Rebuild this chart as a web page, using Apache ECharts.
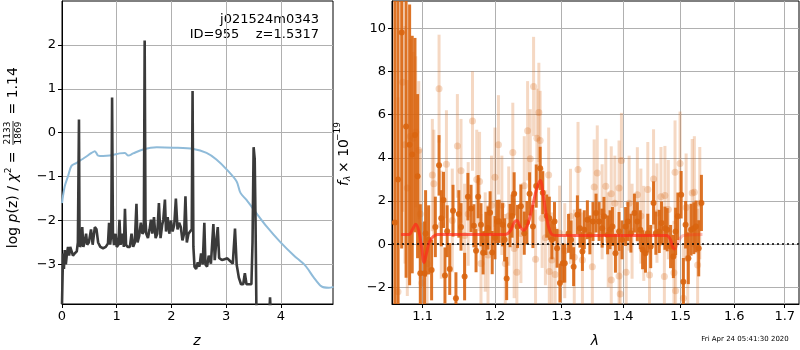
<!DOCTYPE html>
<html>
<head>
<meta charset="utf-8">
<script src="https://cdn.jsdelivr.net/npm/echarts@6/dist/echarts.min.js"></script>
<style>
  html, body { margin: 0; padding: 0; background: #fff; }
  #chart { width: 800px; height: 350px; }
</style>
</head>
<body>
<div id="chart"></div>
<script>
  // p(z) panel
  var zBlack = [0, 0.01, 0.02, 0.035, 0.05, 0.07, 0.09, 0.11, 0.13, 0.15, 0.17, 0.2, 0.23, 0.27, 0.29, 0.30, 0.31, 0.32, 0.33, 0.35, 0.37, 0.39, 0.42, 0.44, 0.46, 0.49, 0.53, 0.56, 0.6, 0.63, 0.66, 0.70, 0.75, 0.8, 0.84, 0.86, 0.88, 0.9, 0.915, 0.93, 0.95, 0.98, 1.0, 1.03, 1.05, 1.07, 1.1, 1.13, 1.15, 1.17, 1.2, 1.24, 1.27, 1.3, 1.33, 1.36, 1.38, 1.41, 1.44, 1.47, 1.495, 1.51, 1.525, 1.54, 1.57, 1.6, 1.625, 1.65, 1.68, 1.71, 1.74, 1.77, 1.8, 1.83, 1.85, 1.88, 1.9, 1.93, 1.96, 1.99, 2.02, 2.05, 2.08, 2.11, 2.14, 2.17, 2.2, 2.23, 2.255, 2.28, 2.31, 2.34, 2.37, 2.385, 2.40, 2.42, 2.45, 2.48, 2.51, 2.54, 2.57, 2.6, 2.62, 2.65, 2.68, 2.72, 2.765, 2.79, 2.82, 2.845, 2.87, 2.92, 2.97, 3.02, 3.07, 3.12, 3.16, 3.19, 3.23, 3.27, 3.31, 3.34, 3.37, 3.42, 3.46, 3.48, 3.50, 3.52, 3.535, 3.55, 3.57, 3.78, 3.80, 3.82, 3.9];
  var pBlack = [-3.9, -3.3, -2.75, -3.1, -2.67, -3.0, -2.75, -2.6, -2.8, -2.6, -2.62, -2.8, -2.75, -2.7, -2.5, -2.5, 0.3, -2.4, -2.6, -2.55, -2.15, -2.6, -2.45, -2.3, -2.55, -2.5, -2.2, -2.55, -2.15, -2.2, -2.5, -2.6, -2.63, -2.6, -2.52, -2.05, -2.55, -2.3, 0.8, -2.3, -2.56, -2.3, -2.6, -2.55, -1.98, -2.55, -2.3, -2.6, -1.73, -2.55, -2.6, -2.6, -2.3, -2.6, -2.5, -1.62, -2.5, -2.35, -2.05, -2.3, -2.25, 2.1, -2.0, -2.3, -2.4, -2.2, -1.98, -2.3, -1.92, -2.4, -2.3, -1.6, -2.4, -2.1, -1.98, -1.52, -2.25, -1.92, -2.3, -2.0, -2.25, -2.1, -1.5, -2.2, -2.05, -2.15, -2.45, -2.3, -1.45, -2.5, -2.3, -2.3, -2.2, 0.95, -2.6, -3.05, -3.1, -2.95, -3.05, -2.75, -3.0, -2.05, -3.0, -3.05, -2.8, -2.98, -2.08, -2.9, -2.45, -2.15, -2.85, -2.9, -2.88, -2.86, -2.92, -2.98, -2.18, -3.0, -3.3, -3.45, -3.45, -3.2, -3.45, -3.45, -3.45, -2.5, -0.33, -0.6, -2.0, -3.9, -4.5, -4.3, -3.75, -4.3, -5];
  var zBlue = [0, 0.05, 0.11, 0.17, 0.26, 0.41, 0.54, 0.60, 0.66, 0.75, 0.87, 1.05, 1.15, 1.21, 1.30, 1.48, 1.73, 2.03, 2.40, 2.64, 2.82, 3.01, 3.19, 3.26, 3.37, 3.55, 3.74, 3.98, 4.23, 4.44, 4.59, 4.74, 4.87, 4.96];
  var pBlue = [-1.6, -1.22, -0.99, -0.76, -0.69, -0.57, -0.46, -0.42, -0.52, -0.53, -0.52, -0.47, -0.46, -0.52, -0.47, -0.38, -0.33, -0.34, -0.37, -0.46, -0.61, -0.84, -1.11, -1.37, -1.53, -1.83, -2.14, -2.48, -2.79, -3.02, -3.28, -3.5, -3.53, -3.51];
  var zTicks = [0, 1, 2, 3, 4];
  var pTicks = [-3, -2, -1, 0, 1, 2];

  // spectrum panel
  var lamDark = [1.064, 1.068, 1.0727, 1.0784, 1.083, 1.0864, 1.090, 1.0934, 1.097, 1.1026, 1.104, 1.108, 1.112, 1.117, 1.122, 1.125, 1.128, 1.130, 1.133, 1.1365, 1.141, 1.145, 1.149, 1.152, 1.157, 1.1616, 1.166, 1.170, 1.173, 1.176, 1.180, 1.183, 1.187,
    1.190, 1.193, 1.196, 1.200, 1.203, 1.206, 1.211, 1.214, 1.217, 1.222, 1.225, 1.228, 1.233, 1.238, 1.243, 1.247, 1.251, 1.256, 1.261, 1.267, 1.271, 1.277, 1.281, 1.285, 1.289, 1.293, 1.2975,
    1.302, 1.305, 1.311, 1.315, 1.319, 1.325, 1.329, 1.333, 1.336, 1.341, 1.345, 1.350, 1.355, 1.360, 1.365, 1.368, 1.374, 1.378, 1.382, 1.387, 1.393, 1.398, 1.404, 1.408, 1.413, 1.419, 1.424, 1.429, 1.433, 1.438, 1.442, 1.447, 1.452, 1.456, 1.462, 1.466, 1.472, 1.476, 1.482, 1.487, 1.491, 1.495, 1.501, 1.505, 1.509, 1.514, 1.519, 1.524, 1.528, 1.533, 1.538];
  var fluxDark = [1.0, 3.0, 9.8, 5.45, 4.6, 4.15, 5.05, 3.15, -1.35, -1.35, 0.5, 0.2, -1.2, 0.8, 3.65, 1.2, 2.05, -1.45, 0.6, -1.15, 1.55, -2.5, 1.4, 0.8, -1.5, 2.2, 1.65, 0.85, -0.3, 2.2, 0.9, -0.4, 0.5,
    0.75, 1.45, -0.39, 0.3, 1.05, 1.06, 0.9, 0.2, -1.59, 0.86, 1.3, 2.33, 0.82, 1.76, 0.51, 1.0, 2.33, 0.82, 2.69, 3.51, 2.38, 1.3, 1.2, 0.2, 1.05, -0.19, -1.8,
    -0.88, -0.88, 0.5, 0.2, -1.04, 1.36, 0.74, -0.34, 0.67, 1.13, 0.43, 1.05, 1.44, 1.05, 0.74, 1.29, 0.43, 0.67, 0.82, -0.42, 0.59, 0.2, 0.82, 1.05, 0.51, 1.44, 1.05, 0.67, -0.26, -0.42, 0.51, -0.11, 1.91, 0.51, 0.59, 0.98, 0.74, 0.67, -0.11, -0.57, 0.59, 1.29, 2.29, -1.74, 0.9, -0.65, 0.67, 0.74, 0.82, -0.19, 1.91];
  var errDark = [14, 12, 10, 7, 6.5, 5.5, 4.5, 3.8, 3.2, 2.4, 2.0, 1.6, 1.4, 1.4, 1.4, 1.3, 1.3, 1.3, 1.2, 1.2, 1.2, 1.2, 1.1, 1.1, 1.1, 1.1, 1.1, 1.0, 1.0, 1.0, 1.0, 1.0, 1.0,
    1.0, 1.0, 1.0, 1.0, 1.0, 1.0, 1.0, 1.0, 1.0, 1.0, 1.0, 1.0, 1.0, 1.0, 1.0, 1.0, 1.0, 1.0, 1.0, 1.0, 1.0, 1.0, 1.0, 0.9, 0.9, 0.9, 0.9,
    0.9, 0.9, 0.9, 0.9, 0.9, 0.9, 0.9, 0.9, 0.9, 0.9, 0.9, 0.9, 0.9, 0.9, 0.9, 0.9, 0.9, 0.9, 0.9, 0.9, 0.9, 0.9, 0.9, 0.9, 0.9, 0.9, 0.9, 0.9, 0.9, 0.9, 0.9, 1.0, 1.0, 1.0, 1.0, 1.0, 1.0, 1.0, 1.0, 1.0, 1.1, 1.1, 1.1, 1.1, 1.1, 1.2, 1.2, 1.2, 1.2, 1.3, 1.3];
  var lamLight = [1.068, 1.074, 1.077, 1.080, 1.084, 1.088, 1.091, 1.095, 1.097, 1.099, 1.106, 1.113, 1.115, 1.122, 1.125, 1.132, 1.140, 1.147, 1.152, 1.157, 1.162, 1.168, 1.174, 1.178, 1.180, 1.186, 1.190, 1.195, 1.200, 1.205, 1.210, 1.215, 1.220, 1.226, 1.228, 1.232, 1.238, 1.243, 1.248, 1.252, 1.257, 1.260, 1.262, 1.265, 1.267, 1.270,
    1.275, 1.280, 1.281, 1.285, 1.290, 1.297, 1.305, 1.314, 1.320, 1.326, 1.333, 1.349, 1.352, 1.357, 1.365, 1.371, 1.375, 1.380, 1.380, 1.386, 1.393, 1.393, 1.395, 1.397, 1.405, 1.410, 1.415, 1.424, 1.430, 1.435, 1.442, 1.445, 1.452, 1.458, 1.465, 1.471, 1.472, 1.478, 1.488, 1.490, 1.491, 1.499, 1.505, 1.510, 1.513, 1.521, 1.525, 1.531, 1.535];
  var fluxLight = [-2.2, 7.5, 4.6, 2.6, 5.0, 4.9, 5.2, 4.35, 1.4, -1.8, -0.9, 3.2, 2.8, 7.2, 0.9, 3.7, 1.1, 4.55, 3.4, 0.4, 1.4, 5.7, 3.0, 2.9, -0.9, 0.1, -0.5, 1.8, 3.1, 4.6, 1.8, -0.9, 1.3, 4.25, -0.2, -1.3, 0.5, 2.7, 5.25, 3.95, 7.3, -0.7, 4.9, 6.1, 4.8, 1.2,
    0.3, 3.2, -1.27, -0.73, -1.4, 0.51, -0.3, 1.29, -0.6, 3.46, -0.73, -1.04, 2.65, 3.3, 1.5, 2.68, 0.2, 2.33, -1.66, 1.9, 2.6, -1.47, -2.31, 3.88, -1.3, 1.9, 0.6, 2.29, 1.3, 0.5, 2.53, -1.43, 3.02, 1.44, 2.2, -1.5, 2.25, 1.6, -1.32, 3.33, -2.16, 3.74, -2.5, 1.7, -0.65, 2.37, 2.4, -0.96, 1.9];
  var errLight = [9, 6, 5.5, 5, 4.5, 4, 3.5, 3.2, 3, 2.8, 2.6, 2.6, 2.5, 2.5, 2.5, 2.5, 2.4, 2.4, 2.4, 2.4, 2.4, 2.3, 2.3, 2.3, 2.3, 2.3, 2.3, 2.3, 2.3, 2.3, 2.3, 2.3, 2.3, 2.3, 2.3, 2.3, 2.3, 2.3, 2.3, 2.3, 2.3, 2.3, 2.3, 2.3, 2.3, 2.3,
    2.2, 2.2, 2.2, 2.2, 2.2, 2.2, 2.2, 2.2, 2.2, 2.2, 2.2, 2.2, 2.2, 2.2, 2.2, 2.2, 2.2, 2.2, 2.2, 2.2, 2.2, 2.2, 2.2, 2.2, 2.2, 2.2, 2.2, 2.2, 2.2, 2.2, 2.2, 2.2, 2.3, 2.3, 2.3, 2.3, 2.3, 2.3, 2.4, 2.4, 2.4, 2.4, 2.5, 2.5, 2.5, 2.5, 2.6, 2.6, 2.6];
  var lamModel = [1.072, 1.082, 1.087, 1.091, 1.095, 1.099, 1.102, 1.105, 1.109, 1.114, 1.12, 1.215, 1.222, 1.228, 1.232, 1.237, 1.242, 1.248, 1.255, 1.262, 1.267, 1.272, 1.277, 1.282, 1.287, 1.295, 1.475, 1.481, 1.486, 1.49];
  var fluxModel = [0.45, 0.45, 0.7, 0.92, 0.6, -0.2, -0.85, -0.45, 0.1, 0.35, 0.45, 0.45, 0.6, 1.0, 1.1, 0.8, 0.65, 0.9, 1.7, 2.6, 2.95, 2.2, 1.2, 0.6, 0.42, 0.4, 0.4, 0.25, -0.15, -0.25];
  var lamModelTail = [1.49, 1.494, 1.5, 1.505, 1.54];
  var fluxModelTail = [-0.25, 0.0, 0.3, 0.4, 0.45];
  var lamTicks = [1.1, 1.2, 1.3, 1.4, 1.5, 1.6, 1.7];
  var fTicks = [-2, 0, 2, 4, 6, 8, 10];

  var orange = '#d9650f';
  var gridColor = '#b0b0b0';
  var font = 'DejaVu Sans';

  function zip(xs, ys, es) {
    return xs.map(function (x, i) {
      return es ? [x, ys[i], es[i]] : [x, ys[i]];
    });
  }
  function lnZip(xs, ys, es) {
    return xs.map(function (x, i) {
      return es ? [Math.log(x), ys[i], es[i]] : [Math.log(x), ys[i]];
    });
  }

  // error bar + dot, clipped to the grid
  function errRender(color, alpha, r) {
    return function (params, api) {
      var x = api.value(0), y = api.value(1), e = api.value(2);
      var top = api.coord([x, y + e]);
      var bot = api.coord([x, y - e]);
      var c = api.coord([x, y]);
      var cs = params.coordSys;
      var box = { x: cs.x, y: cs.y, width: cs.width, height: cs.height };
      var rect = echarts.graphic.clipRectByRect(
        { x: top[0] - 1.5, y: top[1], width: 3, height: bot[1] - top[1] }, box);
      var children = [];
      if (rect) {
        children.push({ type: 'rect', shape: rect, style: { fill: color, opacity: alpha } });
      }
      if (c[1] >= cs.y && c[1] <= cs.y + cs.height) {
        children.push({ type: 'circle', shape: { cx: c[0], cy: c[1], r: r }, style: { fill: color, opacity: alpha } });
      }
      return { type: 'group', children: children };
    };
  }

  function minus(v) { return String(v).replace('-', '\u2212'); }

  var tickStyle = { show: true, length: 4, lineStyle: { color: '#000', width: 1 } };
  var labelStyle = { color: '#000', fontSize: 13, fontFamily: font, margin: 6 };
  var splitStyle = { show: true, lineStyle: { color: gridColor, width: 1 } };
  var lineAxis = { show: true, onZero: false, lineStyle: { color: '#000' } };

  var myChart = echarts.init(document.getElementById('chart'));
  myChart.setOption({
    animation: false,
    backgroundColor: '#fff',
    grid: [
      { left: 62, top: 1, width: 271, height: 303, show: true, borderColor: '#000', borderWidth: 1, backgroundColor: 'transparent' },
      { left: 392, top: 1, width: 407, height: 303, show: true, borderColor: '#000', borderWidth: 1, backgroundColor: 'transparent' }
    ],
    xAxis: [
      {
        gridIndex: 0, type: 'value', min: 0, max: 4.95,
        axisLine: lineAxis,
        axisTick: Object.assign({ customValues: zTicks }, tickStyle),
        axisLabel: Object.assign({ customValues: zTicks }, labelStyle),
        splitLine: splitStyle
      },
      {
        gridIndex: 1, type: 'value', min: Math.log(1.0603), max: Math.log(1.7294),
        axisLine: lineAxis,
        axisTick: Object.assign({ customValues: lamTicks.map(Math.log) }, tickStyle),
        axisLabel: Object.assign({
          customValues: lamTicks.map(Math.log),
          formatter: function (v) { return Math.exp(v).toFixed(1); }
        }, labelStyle),
        splitLine: splitStyle
      }
    ],
    yAxis: [
      {
        gridIndex: 0, type: 'value', min: -3.9, max: 3.0,
        axisLine: lineAxis,
        axisTick: Object.assign({ customValues: pTicks }, tickStyle),
        axisLabel: Object.assign({ customValues: pTicks, formatter: minus }, labelStyle),
        splitLine: splitStyle
      },
      {
        gridIndex: 1, type: 'value', min: -2.77, max: 11.26,
        axisLine: lineAxis,
        axisTick: Object.assign({ customValues: fTicks }, tickStyle),
        axisLabel: Object.assign({ customValues: fTicks, formatter: minus }, labelStyle),
        splitLine: splitStyle
      }
    ],
    series: [
      {
        type: 'line', xAxisIndex: 0, yAxisIndex: 0, data: zip(zBlue, pBlue),
        showSymbol: false, smooth: 0.3, lineStyle: { color: '#8fbbd9', width: 2 }, z: 3
      },
      {
        type: 'line', xAxisIndex: 0, yAxisIndex: 0, data: zip(zBlack, pBlack),
        showSymbol: false, lineStyle: { color: '#3a3a3a', width: 2.6 }, z: 4
      },
      {
        type: 'custom', xAxisIndex: 1, yAxisIndex: 1, data: lnZip(lamLight, fluxLight, errLight),
        renderItem: errRender(orange, 0.25, 3.5), z: 3
      },
      {
        type: 'custom', xAxisIndex: 1, yAxisIndex: 1, data: lnZip(lamDark, fluxDark, errDark),
        renderItem: errRender(orange, 0.9, 3), z: 4
      },
      {
        type: 'line', xAxisIndex: 1, yAxisIndex: 1, data: lnZip(lamModel, fluxModel),
        showSymbol: false, smooth: 0.4, lineStyle: { color: '#ff2a1a', width: 3, opacity: 0.7 }, z: 5,
        markLine: {
          silent: true, symbol: 'none', label: { show: false },
          lineStyle: { color: '#000', type: [2, 3], width: 1.5, opacity: 1 },
          data: [{ yAxis: 0 }]
        }
      },
      {
        type: 'line', xAxisIndex: 1, yAxisIndex: 1, data: lnZip(lamModelTail, fluxModelTail),
        showSymbol: false, smooth: 0.4, lineStyle: { color: '#ff2a1a', width: 3, opacity: 0.3 }, z: 5
      }
    ],
    graphic: [
      { type: 'text', right: 481, top: 13, style: { text: 'j021524m0343', fontSize: 13, fontFamily: font, fill: '#000', textAlign: 'right' } },
      { type: 'text', right: 481, top: 28, style: { text: 'ID=955    z=1.5317', fontSize: 13, fontFamily: font, fill: '#000', textAlign: 'right' } },
      { type: 'text', x: 197, y: 341, style: { text: 'z', fontSize: 14, fontStyle: 'italic', fontFamily: font, fill: '#000', textAlign: 'center', textVerticalAlign: 'middle' } },
      { type: 'text', x: 595, y: 341, style: { text: 'λ', fontSize: 14, fontStyle: 'italic', fontFamily: font, fill: '#000', textAlign: 'center', textVerticalAlign: 'middle' } },
      { type: 'text', x: 745, y: 339, style: { text: 'Fri Apr 24 05:41:30 2020', fontSize: 7, fontFamily: font, fill: '#000', textAlign: 'center', textVerticalAlign: 'middle' } },
      {
        type: 'group', x: 13, y: 153, rotation: Math.PI / 2,
        children: [
          { type: 'text', x: 6, y: 0, style: {
            text: 'log {i|p}(z) / {i|χ}{s|2} = ',
            rich: { i: { fontStyle: 'italic', fontSize: 14, fontFamily: font }, s: { fontSize: 9, fontFamily: font, padding: [0, 0, 8, 0] } },
            fontSize: 14, fontFamily: font, fill: '#000', textAlign: 'right', textVerticalAlign: 'middle' } },
          { type: 'text', x: 20, y: -5, style: { text: '2133', fontSize: 9, fontFamily: font, fill: '#000', textAlign: 'center', textVerticalAlign: 'middle' } },
          { type: 'line', shape: { x1: 8, y1: 0, x2: 32, y2: 0 }, style: { stroke: '#000', lineWidth: 0.8 } },
          { type: 'text', x: 20, y: 6, style: { text: '1869', fontSize: 9, fontFamily: font, fill: '#000', textAlign: 'center', textVerticalAlign: 'middle' } },
          { type: 'text', x: 34, y: 0, style: { text: ' = 1.14', fontSize: 14, fontFamily: font, fill: '#000', textAlign: 'left', textVerticalAlign: 'middle' } }
        ]
      },
      {
        type: 'group', x: 344, y: 154, rotation: Math.PI / 2,
        children: [
          { type: 'text', x: -32, y: 0, style: { text: 'f', fontSize: 14, fontStyle: 'italic', fontFamily: font, fill: '#000', textAlign: 'left', textVerticalAlign: 'middle' } },
          { type: 'text', x: -27, y: 4, style: { text: 'λ', fontSize: 9, fontStyle: 'italic', fontFamily: font, fill: '#000', textAlign: 'left', textVerticalAlign: 'middle' } },
          { type: 'text', x: -19, y: 0, style: { text: '× 10', fontSize: 14, fontFamily: font, fill: '#000', textAlign: 'left', textVerticalAlign: 'middle' } },
          { type: 'text', x: 13, y: -6, style: { text: '−19', fontSize: 9, fontFamily: font, fill: '#000', textAlign: 'left', textVerticalAlign: 'middle' } }
        ]
      }
    ]
  });
</script>
</body>
</html>
